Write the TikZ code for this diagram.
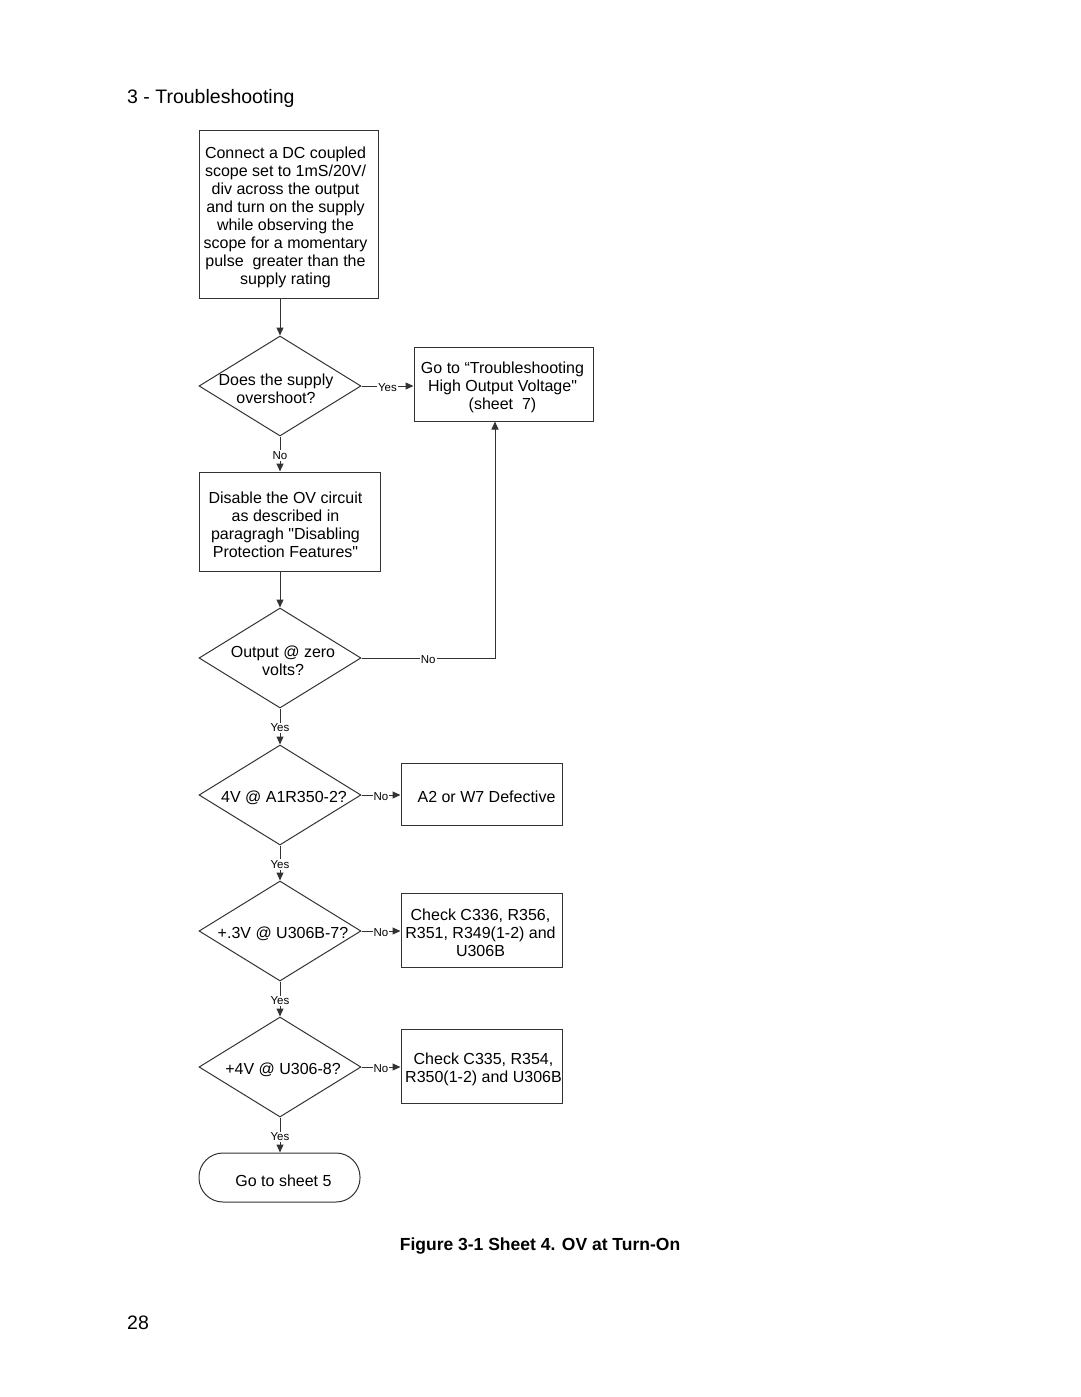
\documentclass[tikz,border=0pt]{standalone}
\usepackage{fontspec}
\setmainfont{Liberation Sans}
\usetikzlibrary{shapes.geometric,arrows.meta}
\begin{document}
\begin{tikzpicture}[x=1pt,y=-1pt,
  txt/.style={font=\fontsize{16}{18}\selectfont, align=center},
  box/.style={draw=black!80, line width=1pt, inner sep=0pt, rectangle},
  tl/.style={txt, xshift=-3pt, yshift=-3pt},
  dia/.style={diamond, draw=black!80, line width=1pt, minimum width=162pt, minimum height=100pt, inner sep=0pt},
  term/.style={box, rounded corners=24pt},
  lbl/.style={font=\fontsize{11.5}{13}\selectfont, fill=white, inner sep=1pt, yshift=-1.5pt},
  arr/.style={draw=black!80, line width=1pt, -{Triangle[length=8pt,width=7pt]}},
  ln/.style={draw=black!80, line width=1pt}
]
\useasboundingbox (0,0) rectangle (1080,1397);

\node[anchor=base west, inner sep=0pt, font=\fontsize{19.5}{22}\selectfont] (title) at (127,103) {3 - Troubleshooting};

\node[box, minimum width=179pt, minimum height=168pt,
  label={[tl]center:{Connect a DC coupled\\scope set to 1mS/20V/\\div across the output\\and turn on the supply\\while observing the\\scope for a momentary\\pulse\ \ greater than the\\supply rating}}] (b1) at (288.5,214) {};

\node[dia, label={[tl, xshift=-1pt]center:{Does the supply\\overshoot?}}] (d1) at (280,386) {};

\node[box, minimum width=179pt, minimum height=74pt,
  label={[tl, xshift=2pt]center:{Go to “Troubleshooting\\High Output Voltage\textquotedbl\\(sheet\ \ 7)}}] (go) at (503.5,384) {};

\node[box, minimum width=181pt, minimum height=99pt,
  label={[tl, xshift=-1pt]center:{Disable the OV circuit\\as described in\\paragragh \textquotedbl Disabling\\Protection Features\textquotedbl}}] (b2) at (289.5,521.5) {};

\node[dia, label={[tl, xshift=6pt]center:{Output @ zero\\volts?}}] (d2) at (280,658) {};

\node[dia, label={[tl, xshift=7pt]center:{4V @ A1R350-2?}}] (d3) at (280,795) {};
\node[box, minimum width=161pt, minimum height=62pt,
  label={[tl, xshift=8pt]center:{A2 or W7 Defective}}] (a2) at (481.5,794) {};

\node[dia, label={[tl, xshift=6pt]center:{+.3V @ U306B-7?}}] (d4) at (280,931) {};
\node[box, minimum width=161pt, minimum height=74pt,
  label={[tl, xshift=2pt]center:{Check C336, R356,\\R351, R349(1-2) and\\U306B}}] (c1) at (481.5,930) {};

\node[dia, label={[tl, xshift=6pt]center:{+4V @ U306-8?}}] (d5) at (280,1067) {};
\node[box, minimum width=161pt, minimum height=74pt,
  label={[tl, xshift=5pt]center:{Check C335, R354,\\R350(1-2) and U306B}}] (c2) at (481.5,1066) {};

\node[term, minimum width=161pt, minimum height=49pt,
  label={[tl, xshift=7pt]center:{Go to sheet 5}}] (t) at (279.5,1177.5) {};

% connectors
\draw[arr] (d1 |- b1.south) -- (d1.north);
\draw[arr] (d1.east) -- node[lbl] {Yes} (go.west |- d1.east);
\draw[arr] (d1.south) -- node[lbl] {No} (d1 |- b2.north);
\draw[arr] (d1 |- b2.south) -- (d2.north);
\draw[arr] (d2.east) -| node[lbl, pos=0.25] {No} ([xshift=-8.5pt]go.south);
\draw[arr] (d2.south) -- node[lbl] {Yes} (d3.north);
\draw[arr] (d3.east) -- node[lbl] {No} (a2.west |- d3.east);
\draw[arr] (d3.south) -- node[lbl] {Yes} (d4.north);
\draw[arr] (d4.east) -- node[lbl] {No} (c1.west |- d4.east);
\draw[arr] (d4.south) -- node[lbl] {Yes} (d5.north);
\draw[arr] (d5.east) -- node[lbl] {No} (c2.west |- d5.east);
\draw[arr] (d5.south) -- node[lbl] {Yes} (d5 |- t.north);

\node[anchor=base, inner sep=0pt, font=\bfseries\fontsize{17.5}{20}\selectfont] (cap) at (540,1250) {Figure 3-1 Sheet 4. OV at Turn-On};
\node[anchor=base west, inner sep=0pt, font=\fontsize{19.5}{22}\selectfont] (pg) at (127,1329) {28};
\end{tikzpicture}
\end{document}
